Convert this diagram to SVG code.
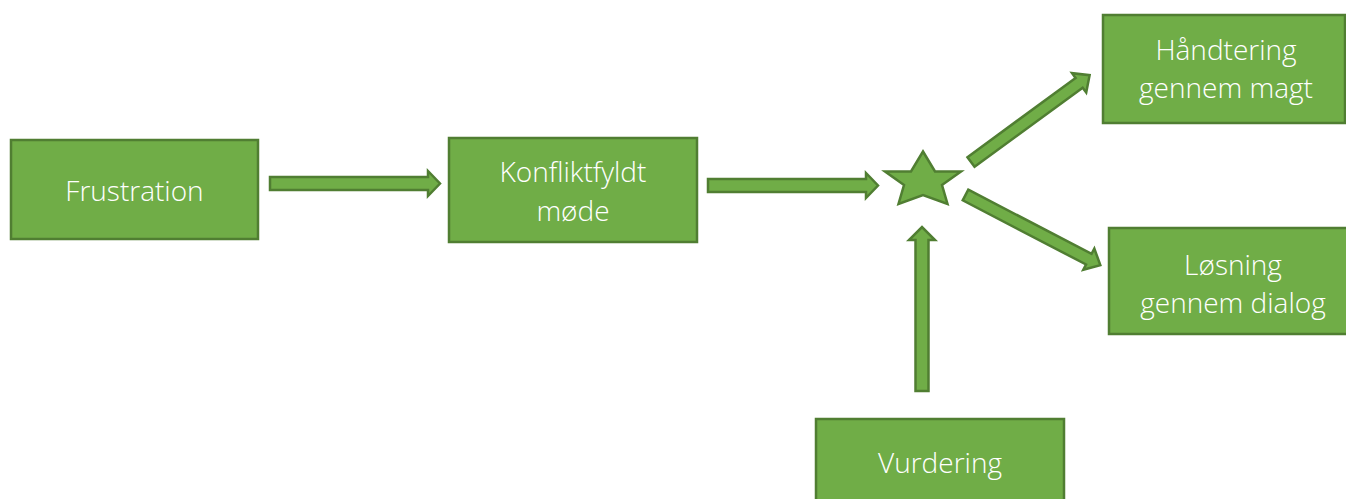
<svg xmlns="http://www.w3.org/2000/svg" width="1346" height="499" viewBox="0 0 1346 499">
  <defs>
    <style>
      .box { fill: #70AD47; stroke: #507E32; stroke-width: 2.5; }
      .arrow { fill: #70AD47; stroke: #507E32; stroke-width: 2.5; stroke-linejoin: miter; }
      .label { fill: #FFFFFF; font-family: "Open Sans", "Segoe UI", "Liberation Sans", sans-serif; font-weight: 300; font-size: 28px; text-anchor: middle; }
    </style>
  </defs>
  <rect width="1346" height="499" fill="#FFFFFF"/>

  <g id="frustration">
    <rect class="box" x="11" y="140" width="247" height="99"/>
    <text class="label" x="134.5" y="201">Frustration</text>
  </g>

  <g id="konfliktfyldt-moede">
    <rect class="box" x="449" y="138" width="248" height="104"/>
    <text class="label" x="573" y="182">Konfliktfyldt</text>
    <text class="label" x="573" y="221">møde</text>
  </g>

  <g id="star">
    <polygon class="box" points="923,151.5 935,171.5 961,171.5 942,185 947.5,204 923,195 898.5,204 904,185 885,171.5 911,171.5"/>
  </g>

  <g id="haandtering">
    <rect class="box" x="1103" y="15" width="242" height="108"/>
    <text class="label" x="1226" y="60">Håndtering</text>
    <text class="label" x="1226" y="98">gennem magt</text>
  </g>

  <g id="loesning">
    <rect class="box" x="1109" y="228" width="240" height="106"/>
    <text class="label" x="1233" y="275">Løsning</text>
    <text class="label" x="1233" y="313">gennem dialog</text>
  </g>

  <g id="vurdering">
    <rect class="box" x="816" y="419" width="248" height="92"/>
    <text class="label" x="940" y="473">Vurdering</text>
  </g>

  <g id="connectors">
    <!-- block arrows drawn along +x, then placed with translate/rotate -->
    <polygon class="arrow" transform="translate(270,183.5)" points="0,-6.5 158,-6.5 158,-12.5 170,0 158,12.5 158,6.5 0,6.5"/>
    <polygon class="arrow" transform="translate(708,185.5)" points="0,-6.5 158,-6.5 158,-12.5 170,0 158,12.5 158,6.5 0,6.5"/>
    <polygon class="arrow" transform="translate(971,162) rotate(-36.2)" points="0,-6 134,-6 134,-12 147,0 134,12 134,6 0,6"/>
    <polygon class="arrow" transform="translate(965.5,195) rotate(27.5)" points="0,-6 139,-6 139,-12 152,0 139,12 139,6 0,6"/>
    <polygon class="arrow" transform="translate(922,391) rotate(-90)" points="0,-6.5 151,-6.5 151,-13 164,0 151,13 151,6.5 0,6.5"/>
  </g>
</svg>
